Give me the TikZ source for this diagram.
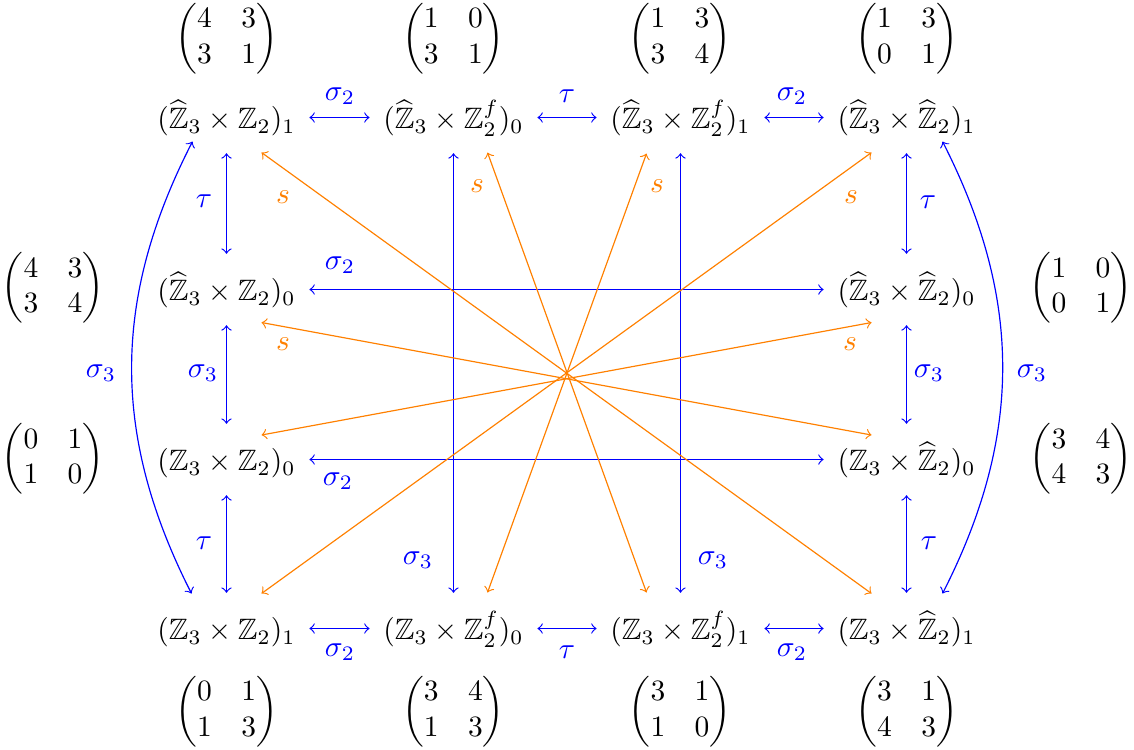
\documentclass[tikz,border=0pt]{standalone}
\usepackage{amsmath,amssymb}
\usetikzlibrary{calc}
\begin{document}
\begin{tikzpicture}[x=0.339pt,y=-0.339pt,
  grid/.style={inner xsep=4.5pt, inner ysep=5pt, text height=10.7pt, text depth=3.1pt},
  barr/.style={<->, blue},
  oarr/.style={<->, orange},
  blbl/.style={text=blue, inner sep=0pt},
  olbl/.style={text=orange, inner sep=0pt},
  mat/.style={inner sep=0pt}]
\useasboundingbox (0,0) rectangle (1134,749);
% grid nodes
\node[grid] (A1) at (226.5,117.5) {$(\widehat{\mathbb{Z}}_3\times\mathbb{Z}_2)_1$};
\node[grid] (B1) at (453.5,117.5) {$(\widehat{\mathbb{Z}}_3\times\mathbb{Z}_2^f)_0$};
\node[grid] (C1) at (680.5,117.5) {$(\widehat{\mathbb{Z}}_3\times\mathbb{Z}_2^f)_1$};
\node[grid] (D1) at (906.5,117.5) {$(\widehat{\mathbb{Z}}_3\times\widehat{\mathbb{Z}}_2)_1$};
\node[grid] (A2) at (226.5,289.5) {$(\widehat{\mathbb{Z}}_3\times\mathbb{Z}_2)_0$};
\node[grid] (D2) at (906.5,289.5) {$(\widehat{\mathbb{Z}}_3\times\widehat{\mathbb{Z}}_2)_0$};
\node[grid] (A3) at (226.5,459.5) {$(\mathbb{Z}_3\times\mathbb{Z}_2)_0$};
\node[grid] (D3) at (906.5,459.5) {$(\mathbb{Z}_3\times\widehat{\mathbb{Z}}_2)_0$};
\node[grid] (A4) at (226.5,628.5) {$(\mathbb{Z}_3\times\mathbb{Z}_2)_1$};
\node[grid] (B4) at (453.5,628.5) {$(\mathbb{Z}_3\times\mathbb{Z}_2^f)_0$};
\node[grid] (C4) at (680.5,628.5) {$(\mathbb{Z}_3\times\mathbb{Z}_2^f)_1$};
\node[grid] (D4) at (906.5,628.5) {$(\mathbb{Z}_3\times\widehat{\mathbb{Z}}_2)_1$};
% matrices
\node[mat] (MA1) at (226.7,38.5) {$\begin{pmatrix}4&3\\3&1\end{pmatrix}$};
\node[mat] (MB1) at (453.3,38.5) {$\begin{pmatrix}1&0\\3&1\end{pmatrix}$};
\node[mat] (MC1) at (680,38.5) {$\begin{pmatrix}1&3\\3&4\end{pmatrix}$};
\node[mat] (MD1) at (906.7,38.5) {$\begin{pmatrix}1&3\\0&1\end{pmatrix}$};
\node[mat] (MA2) at (53,288) {$\begin{pmatrix}4&3\\3&4\end{pmatrix}$};
\node[mat] (MA3) at (53,459) {$\begin{pmatrix}0&1\\1&0\end{pmatrix}$};
\node[mat] (MD2) at (1081,288) {$\begin{pmatrix}1&0\\0&1\end{pmatrix}$};
\node[mat] (MD3) at (1081,459) {$\begin{pmatrix}3&4\\4&3\end{pmatrix}$};
\node[mat] (MA4) at (226.7,711.5) {$\begin{pmatrix}0&1\\1&3\end{pmatrix}$};
\node[mat] (MB4) at (453.3,711.5) {$\begin{pmatrix}3&4\\1&3\end{pmatrix}$};
\node[mat] (MC4) at (680,711.5) {$\begin{pmatrix}3&1\\1&0\end{pmatrix}$};
\node[mat] (MD4) at (906.7,711.5) {$\begin{pmatrix}3&1\\4&3\end{pmatrix}$};
% blue arrows
\draw[barr] (A1) -- (B1);
\draw[barr] (B1) -- (C1);
\draw[barr] (C1) -- (D1);
\draw[barr] (A4) -- (B4);
\draw[barr] (B4) -- (C4);
\draw[barr] (C4) -- (D4);
\draw[barr] (A1) -- (A2);
\draw[barr] (A2) -- (A3);
\draw[barr] (A3) -- (A4);
\draw[barr] (D1) -- (D2);
\draw[barr] (D2) -- (D3);
\draw[barr] (D3) -- (D4);
\draw[barr] (A2) -- (D2);
\draw[barr] (A3) -- (D3);
\draw[barr] (B1) -- (B4);
\draw[barr] (C1) -- (C4);
\draw[barr] ($(A1)+(-34,24)$) to[bend right=27] ($(A4)+(-35,-35)$);
\draw[barr] ($(D1)+(36,24)$) to[bend left=27] ($(D4)+(36,-35)$);
% orange arrows
\draw[oarr] ($(A1)+(35,35)$) -- ($(D4)+(-35,-35)$);
\draw[oarr] ($(B1)+(34,35)$) -- ($(C4)+(-34,-36)$);
\draw[oarr] ($(C1)+(-34,36)$) -- ($(B4)+(34,-36)$);
\draw[oarr] ($(D1)+(-35,35)$) -- ($(A4)+(35,-35)$);
\draw[oarr] ($(A2)+(35,33)$) -- ($(D3)+(-35,-24.5)$);
\draw[oarr] ($(D2)+(-35,33)$) -- ($(A3)+(35,-24.5)$);
% blue labels
\node[blbl] (l1) at (340,96) {$\sigma_2$};
\node[blbl] (l2) at (567,96) {$\tau$};
\node[blbl] (l3) at (792,96) {$\sigma_2$};
\node[blbl] (l4) at (340,652) {$\sigma_2$};
\node[blbl] (l5) at (567,652) {$\tau$};
\node[blbl] (l6) at (792,652) {$\sigma_2$};
\node[blbl] (l7) at (204,201) {$\tau$};
\node[blbl] (l8) at (203,373) {$\sigma_3$};
\node[blbl] (l9) at (204,543) {$\tau$};
\node[blbl] (l10) at (928,202) {$\tau$};
\node[blbl] (l11) at (929,373) {$\sigma_3$};
\node[blbl] (l12) at (929,543) {$\tau$};
\node[blbl] (l13) at (101,373) {$\sigma_3$};
\node[blbl] (l14) at (1032,373) {$\sigma_3$};
\node[blbl] (l15) at (418,560) {$\sigma_3$};
\node[blbl] (l16) at (713,560) {$\sigma_3$};
\node[blbl] (l17) at (340,265) {$\sigma_2$};
\node[blbl] (l18) at (338,481) {$\sigma_2$};
% orange labels
\node[olbl] (s1) at (283,197) {$s$};
\node[olbl] (s2) at (477,186) {$s$};
\node[olbl] (s3) at (657,186) {$s$};
\node[olbl] (s4) at (851,197) {$s$};
\node[olbl] (s5) at (283,344) {$s$};
\node[olbl] (s6) at (850,344) {$s$};
\end{tikzpicture}
\end{document}
